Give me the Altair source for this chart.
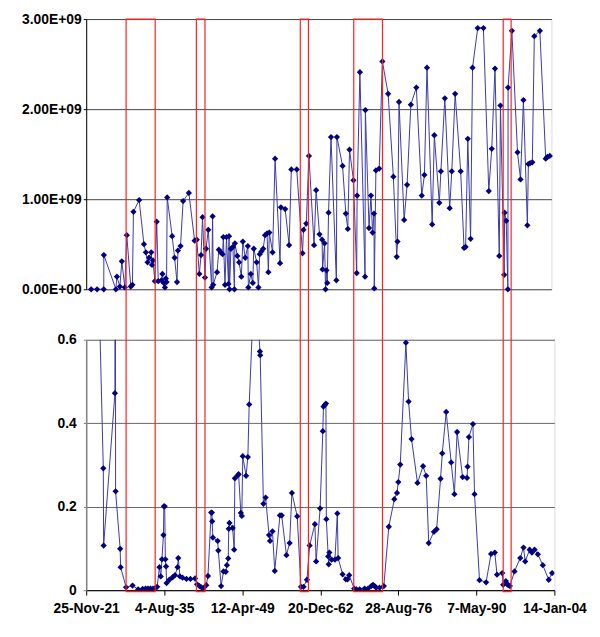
import json
import altair as alt
import pandas as pd

# ---------------- data ----------------
top_years = [
    1922.42, 1923.46, 1924.63, 1924.65, 1926.76, 1926.94, 1927.46, 1927.80, 1928.33, 1928.67,
    1929.37, 1929.66, 1929.84, 1930.84, 1931.68, 1932.02, 1932.32, 1932.58, 1932.96, 1933.10,
    1933.27, 1933.59, 1933.92, 1934.19, 1934.75, 1934.92, 1935.15, 1935.36, 1935.53, 1935.65,
    1935.76, 1936.63, 1937.06, 1937.48, 1937.65, 1938.10, 1938.55, 1939.56, 1940.57, 1940.95,
    1941.40, 1941.70, 1941.96, 1942.39, 1942.57, 1942.97, 1943.56, 1943.73, 1943.83, 1944.51,
    1944.82, 1945.17, 1945.47, 1945.61, 1945.90, 1946.16, 1946.51, 1946.61, 1946.70, 1946.94,
    1947.29, 1947.55, 1947.64, 1948.07, 1948.38, 1948.77, 1949.03, 1949.46, 1949.91, 1950.00,
    1950.43, 1950.78, 1950.95, 1951.46, 1951.77, 1952.00, 1952.29, 1952.60, 1952.93, 1953.28,
    1953.51, 1953.68, 1954.25, 1954.69, 1955.56, 1955.71, 1956.46, 1957.15, 1957.54, 1958.49,
    1959.50, 1959.67, 1960.16, 1960.63, 1961.53, 1961.89, 1962.48, 1962.94, 1963.02, 1963.37,
    1963.54, 1963.70, 1963.84, 1964.07, 1964.50, 1965.44, 1965.54, 1966.53, 1967.10, 1967.45,
    1967.75, 1968.44, 1969.01, 1969.08, 1969.57, 1970.47, 1970.53, 1971.17, 1971.51, 1971.79,
    1972.04, 1972.09, 1972.38, 1972.96, 1973.51, 1974.52, 1975.44, 1976.03, 1976.17, 1976.43,
    1977.33, 1977.85, 1978.51, 1979.47, 1980.42, 1980.89, 1981.34, 1982.25, 1982.63, 1983.50,
    1983.78, 1984.47, 1985.32, 1985.69, 1986.28, 1987.25, 1987.84, 1988.12, 1988.50, 1988.99,
    1989.33, 1990.24, 1991.24, 1992.18, 1992.70, 1993.27, 1994.02, 1994.23, 1994.89, 1994.96,
    1995.24, 1995.53, 1995.57, 1996.23, 1997.22, 1997.75, 1998.26, 1998.95, 1999.13, 1999.44,
    1999.82, 2000.17, 2001.14, 2002.17, 2002.48, 2002.88,
]
top_values = [
    0.00e9, 0.00e9, 0.00e9, 0.38e9, 0.00e9, 0.14e9, 0.03e9, 0.31e9, 0.02e9, 0.60e9,
    0.03e9, 0.05e9, 0.86e9, 0.99e9, 0.50e9, 0.41e9, 0.30e9, 0.35e9, 0.41e9, 0.27e9,
    0.32e9, 0.09e9, 0.75e9, 0.09e9, 0.10e9, 0.17e9, 0.07e9, 0.02e9, 0.12e9, 0.08e9,
    1.02e9, 0.59e9, 0.35e9, 0.08e9, 0.43e9, 0.48e9, 0.98e9, 1.07e9, 0.54e9, 0.55e9,
    0.17e9, 0.38e9, 0.80e9, 0.13e9, 0.45e9, 0.66e9, 0.02e9, 0.81e9, 0.05e9, 0.19e9,
    0.44e9, 0.41e9, 0.39e9, 0.58e9, 0.05e9, 0.58e9, 0.06e9, 0.59e9, 0.00e9, 0.45e9,
    0.47e9, 0.00e9, 0.51e9, 0.37e9, 0.30e9, 0.14e9, 0.53e9, 0.35e9, 0.48e9, 0.02e9,
    0.17e9, 0.07e9, 0.45e9, 0.30e9, 0.02e9, 0.39e9, 0.42e9, 0.45e9, 0.60e9, 0.62e9,
    0.19e9, 0.63e9, 0.41e9, 1.45e9, 0.29e9, 0.91e9, 0.89e9, 0.49e9, 1.33e9, 1.33e9,
    0.40e9, 0.66e9, 0.73e9, 1.48e9, 0.49e9, 1.10e9, 0.61e9, 0.55e9, 0.22e9, 0.51e9,
    0.00e9, 0.21e9, 0.07e9, 0.85e9, 1.69e9, 0.10e9, 1.69e9, 1.37e9, 0.84e9, 0.67e9,
    1.55e9, 1.21e9, 0.18e9, 1.04e9, 2.41e9, 0.14e9, 1.99e9, 0.68e9, 1.04e9, 0.63e9,
    0.84e9, 0.01e9, 1.32e9, 1.34e9, 2.53e9, 2.17e9, 1.25e9, 0.36e9, 0.53e9, 2.08e9,
    0.77e9, 1.16e9, 2.05e9, 2.24e9, 1.04e9, 1.27e9, 2.46e9, 0.72e9, 1.71e9, 0.96e9,
    1.31e9, 2.12e9, 0.90e9, 1.31e9, 2.17e9, 1.31e9, 0.46e9, 0.47e9, 1.67e9, 0.56e9,
    2.46e9, 2.90e9, 2.90e9, 1.09e9, 1.56e9, 2.45e9, 0.37e9, 2.04e9, 0.16e9, 0.85e9,
    0.76e9, 0.00e9, 2.24e9, 2.87e9, 1.52e9, 1.22e9, 2.10e9, 0.71e9, 1.39e9, 1.40e9,
    1.41e9, 2.81e9, 2.87e9, 1.45e9, 1.47e9, 1.48e9,
]

bottom_years = [
    1923.46, 1924.90, 1924.96, 1926.94, 1926.99, 1927.06, 1927.86, 1927.94, 1928.90, 1930.03,
    1931.02, 1931.80, 1932.32, 1932.75, 1933.19, 1933.62, 1933.93, 1934.35, 1934.75, 1934.98,
    1935.19, 1935.45, 1935.53, 1935.67, 1935.79, 1935.91, 1936.00, 1936.49, 1937.06, 1937.48,
    1937.93, 1938.05, 1938.35, 1938.80, 1939.49, 1940.19, 1941.00, 1941.35, 1941.78, 1942.10,
    1942.48, 1942.97, 1943.26, 1943.83, 1943.95, 1944.00, 1944.13, 1944.96, 1945.08, 1945.57,
    1945.99, 1946.39, 1946.59, 1946.82, 1946.91, 1947.03, 1947.60, 1947.86, 1947.98, 1948.47,
    1948.64, 1949.03, 1949.20, 1949.37, 1949.95, 1950.26, 1950.50, 1951.51, 1952.38, 1952.43,
    1952.99, 1953.38, 1953.98, 1954.15, 1954.58, 1954.98, 1955.89, 1956.20, 1957.03, 1957.59,
    1957.99, 1958.92, 1959.58, 1960.02, 1960.63, 1961.10, 1962.02, 1962.24, 1962.94, 1963.41,
    1963.53, 1963.80, 1963.96, 1964.03, 1964.36, 1964.45, 1964.57, 1964.97, 1965.54, 1965.96,
    1966.10, 1966.88, 1967.45, 1967.75, 1968.04, 1968.91, 1969.31, 1969.88, 1970.75, 1971.34,
    1971.91, 1972.21, 1972.49, 1972.78, 1973.36, 1974.12, 1974.99, 1975.96, 1976.43, 1976.66,
    1977.00, 1977.99, 1978.46, 1978.98, 1980.02, 1981.00, 1981.55, 1981.99, 1982.91, 1983.38,
    1984.07, 1984.37, 1985.06, 1985.93, 1986.50, 1986.97, 1987.94, 1988.71, 1988.81, 1989.05,
    1989.75, 1990.03, 1990.90, 1992.06, 1992.93, 1993.59, 1993.97, 1994.89, 1995.06, 1995.53,
    1995.76, 1995.97, 1996.23, 1997.04, 1998.05, 1998.62, 1998.92, 1999.70, 2000.10, 2000.57,
    2001.14, 2002.01, 2003.05, 2003.64,
]
bottom_values = [
    1.10, 0.292, 0.107, 0.472, 1.50, 0.237, 0.099, 0.055, 0.007, 0.011,
    0.002, 0.003, 0.004, 0.004, 0.004, 0.004, 0.004, 0.008, 0.055, 0.033,
    0.074, 0.132, 0.201, 0.201, 0.074, 0.057, 0.017, 0.025, 0.031, 0.036,
    0.055, 0.077, 0.033, 0.030, 0.027, 0.027, 0.028, 0.014, 0.010, 0.007,
    0.005, 0.012, 0.034, 0.186, 0.186, 0.165, 0.126, 0.118, 0.095, 0.010,
    0.045, 0.044, 0.060, 0.076, 0.147, 0.161, 0.149, 0.097, 0.268, 0.275,
    0.278, 0.185, 0.178, 0.321, 0.274, 0.319, 0.445, 0.78, 0.572, 0.563,
    0.207, 0.222, 0.132, 0.118, 0.141, 0.046, 0.179, 0.179, 0.084, 0.113,
    0.233, 0.177, 0.008, 0.008, 0.025, 0.107, 0.158, 0.069, 0.196, 0.381,
    0.440, 0.444, 0.447, 0.170, 0.081, 0.062, 0.090, 0.073, 0.073, 0.184,
    0.077, 0.038, 0.026, 0.026, 0.036, 0.004, 0.002, 0.002, 0.004, 0.004,
    0.010, 0.013, 0.010, 0.006, 0.006, 0.010, 0.152, 0.218, 0.233, 0.259,
    0.301, 0.593, 0.452, 0.362, 0.257, 0.297, 0.274, 0.113, 0.140, 0.146,
    0.267, 0.328, 0.427, 0.306, 0.230, 0.379, 0.271, 0.269, 0.296, 0.367,
    0.398, 0.230, 0.024, 0.019, 0.087, 0.090, 0.037, 0.041, 0.013, 0.022,
    0.014, 0.012, 0.010, 0.045, 0.077, 0.102, 0.069, 0.097, 0.090, 0.097,
    0.086, 0.060, 0.025, 0.041,
]

band_start = [1928.90, 1941.23, 1959.46, 1968.84, 1995.06]
band_end = [1934.00, 1942.74, 1960.89, 1973.88, 1996.45]

x_tick_years = [1921.90, 1935.59, 1949.28, 1962.97, 1976.66, 1990.35, 2004.04]
x_tick_labels = ["25-Nov-21", "4-Aug-35", "12-Apr-49", "20-Dec-62", "28-Aug-76", "7-May-90", "14-Jan-04"]
top_tick_values = [0, 1e9, 2e9, 3e9]
top_tick_labels = ["0.00E+00", "1.00E+09", "2.00E+09", "3.00E+09"]
bottom_tick_values = [0, 0.2, 0.4, 0.6]
bottom_tick_labels = ["0", "0.2", "0.4", "0.6"]

# ---------------- layout / style ----------------
W_TOP, H_TOP = 470, 273
W_BOT, H_BOT = 473, 253
GAP = 51
FONT = "Liberation Sans"
LINE_COLOR = "#3a3aa6"
MARK_COLOR = "#000080"


def label_expr(values, labels):
    return f"{json.dumps(labels)}[indexof({json.dumps(values)}, datum.value)]"


top_df = pd.DataFrame({"year": top_years, "value": top_values})
bot_df = pd.DataFrame({"year": bottom_years, "ratio": bottom_values})
band_df = pd.DataFrame({"start": band_start, "end": band_end})

x_top_scale = alt.Scale(domain=[1921.55, 2003.17], nice=False, zero=False)
x_bot_scale = alt.Scale(domain=[x_tick_years[0], x_tick_years[-1]], nice=False, zero=False)

x_top = alt.X("year:Q", scale=x_top_scale, axis=None)
y_top = alt.Y(
    "value:Q",
    scale=alt.Scale(domain=[0, 3e9], nice=False),
    axis=alt.Axis(
        values=top_tick_values, labelExpr=label_expr(top_tick_values, top_tick_labels),
        title=None, grid=True, gridColor="#444444", domainColor="#000000",
        tickColor="#000000", tickSize=3, labelPadding=2, labelFont=FONT,
        labelFontWeight="bold", labelFontSize=14, labelColor="#000000",
    ),
)

top_base = alt.Chart(top_df)
top = alt.layer(
    top_base.mark_line(color=LINE_COLOR, strokeWidth=1),
    top_base.mark_point(shape="diamond", filled=True, size=40, color=MARK_COLOR, opacity=1),
).encode(x=x_top, y=y_top).properties(width=W_TOP, height=H_TOP)

x_bot = alt.X(
    "year:Q", scale=x_bot_scale,
    axis=alt.Axis(
        values=x_tick_years, labelExpr=label_expr(x_tick_years, x_tick_labels),
        title=None, grid=False, domainColor="#000000", tickColor="#000000",
        tickSize=5, labelPadding=7, labelFont=FONT, labelFontWeight="bold",
        labelFontSize=14, labelColor="#000000", labelOverlap=False, labelBound=False,
        labelFlush=False,
    ),
)
y_bot = alt.Y(
    "ratio:Q",
    scale=alt.Scale(domain=[0, 0.6], nice=False),
    axis=alt.Axis(
        values=bottom_tick_values, labelExpr=label_expr(bottom_tick_values, bottom_tick_labels),
        title=None, grid=True, gridColor="#666666", domainColor="#808080",
        domainWidth=1.5, tickColor="#808080", tickSize=3, labelPadding=7,
        labelFont=FONT, labelFontWeight="bold", labelFontSize=14, labelColor="#000000",
    ),
)

bot_base = alt.Chart(bot_df)
bot_line = bot_base.mark_line(color=LINE_COLOR, strokeWidth=1, clip=True).encode(x=x_bot, y=y_bot)
bot_pts = bot_base.mark_point(shape="diamond", filled=True, size=40, color=MARK_COLOR,
                              opacity=1, clip=True).encode(x=x_bot, y=y_bot)
bands = alt.Chart(band_df).mark_rect(fill="#ffffff", fillOpacity=0, stroke="#ff2020",
                                      strokeWidth=1.2).encode(
    x=alt.X("start:Q", scale=x_bot_scale),
    x2="end:Q",
    y=alt.value(-(H_TOP + GAP)),
    y2=alt.value(H_BOT + 1.5),
)
bottom = alt.layer(bot_line, bot_pts, bands).properties(width=W_BOT, height=H_BOT)

chart = alt.vconcat(top, bottom, spacing=GAP, bounds="flush").properties(
    padding={"left": 13, "top": 0, "right": 5, "bottom": 5}
).configure_view(stroke="#000000", strokeWidth=1).configure(background="#ffffff")

chart.save("out.html", embed_options={"renderer": "svg", "actions": False})
